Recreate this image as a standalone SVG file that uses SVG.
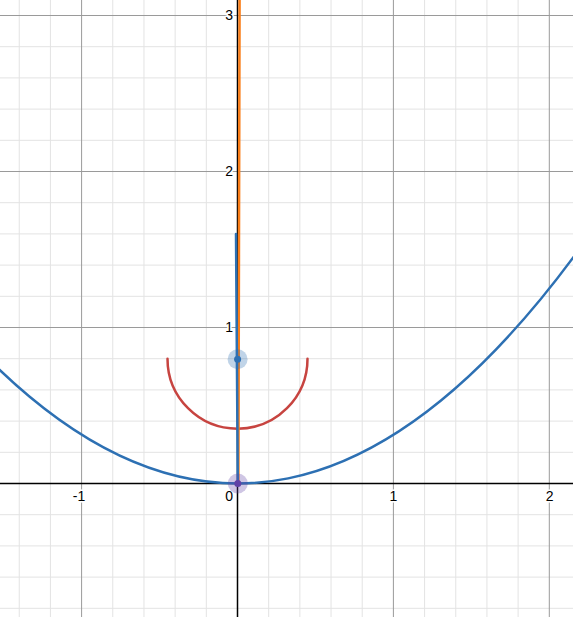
<svg xmlns="http://www.w3.org/2000/svg" width="573" height="617" viewBox="0 0 573 617">
<style>
.minor{stroke:#e3e3e3;stroke-width:1;fill:none}
.major{stroke:#9a9a9a;stroke-width:1;fill:none}
.axis{stroke:#000;stroke-width:1.5;fill:none}
.lbl{font-family:"Liberation Sans",Arial,sans-serif;font-size:14px;fill:#000;stroke:#fff;stroke-width:3px;paint-order:stroke;stroke-linejoin:round}
.curve{fill:none;stroke-width:2.5;stroke-linecap:round}
</style>
<rect width="573" height="617" fill="#fff"/>
<g id="grid-minor" class="minor">
<path d="M19.24,0V617M50.42,0V617M112.78,0V617M143.96,0V617M175.14,0V617M206.32,0V617M268.68,0V617M299.86,0V617M331.04,0V617M362.22,0V617M424.58,0V617M455.76,0V617M486.94,0V617M518.12,0V617"/>
<path d="M0,608.3H573M0,577.1H573M0,545.9H573M0,514.7H573M0,452.3H573M0,421.1H573M0,389.9H573M0,358.7H573M0,296.3H573M0,265.1H573M0,233.9H573M0,202.7H573M0,140.3H573M0,109.1H573M0,77.9H573M0,46.7H573"/>
</g>
<g id="grid-major" class="major">
<path d="M81.6,0V617M393.4,0V617M549.3,0V617M0,327.5H573M0,171.5H573M0,15.5H573"/>
</g>
<g id="axes" class="axis">
<path d="M0,483.5H573M237.5,0V617"/>
</g>
<g id="labels">
<text class="lbl" x="79" y="500.5" text-anchor="middle">-1</text>
<text class="lbl" x="393.4" y="500.5" text-anchor="middle">1</text>
<text class="lbl" x="549.6" y="500.5" text-anchor="middle">2</text>
<text class="lbl" x="233" y="500.5" text-anchor="end">0</text>
<text class="lbl" x="233" y="332.3" text-anchor="end">1</text>
<text class="lbl" x="233" y="176.3" text-anchor="end">2</text>
<text class="lbl" x="233" y="20.3" text-anchor="end">3</text>
</g>
<g id="connectors">
<path id="semicircle" class="curve" stroke="#c74440" d="M167.5,358.7A70,70 0 0 0 307.5,358.7"/>
<path id="orange-line" class="curve" stroke="#fa7e19" d="M239.6,-5L238.4,483.5"/>
<path id="parabola" class="curve" stroke="#2d70b3" d="M-11.9,358.7Q288.2,659 588.3,236.7"/>
<path id="blue-segment" class="curve" stroke="#2d70b3" d="M236,233.9L237.8,483.5"/>
</g>
<g id="focus">
<circle cx="237.6" cy="359.2" r="10" fill="#2d70b3" fill-opacity="0.3"/>
<circle cx="237.6" cy="359.2" r="3.5" fill="#2d70b3"/>
</g>
<g id="vertex">
<circle cx="237.8" cy="483.5" r="10" fill="#6042a6" fill-opacity="0.3"/>
<circle cx="237.8" cy="483.5" r="3.5" fill="#6042a6"/>
</g>
</svg>
